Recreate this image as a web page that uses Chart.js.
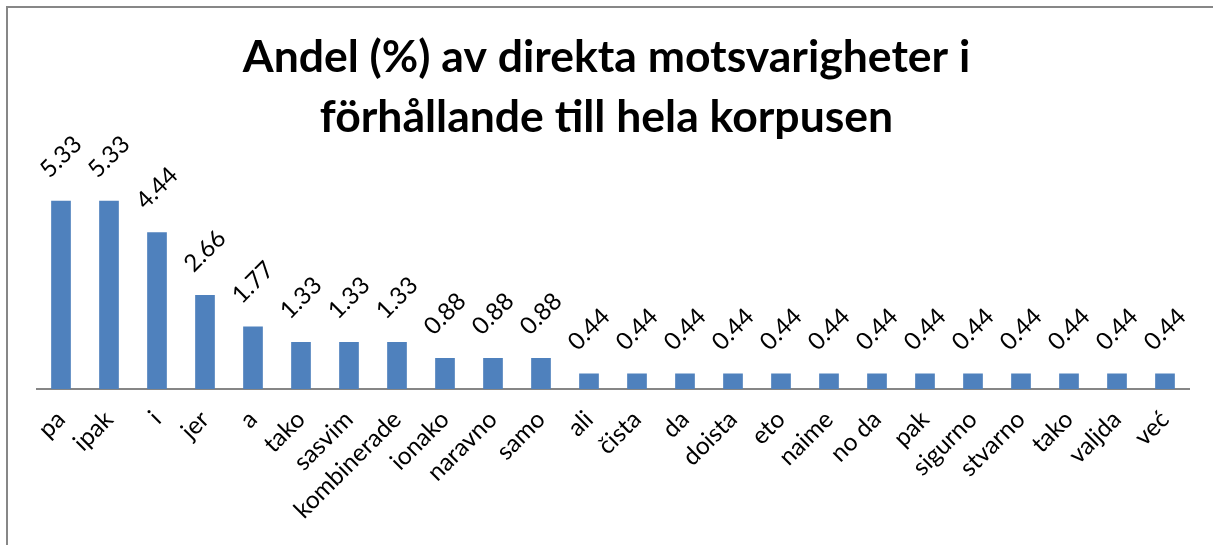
<!DOCTYPE html>
<html>
<head>
<meta charset="utf-8">
<script src="https://cdn.jsdelivr.net/npm/chart.js@4"></script>
<style>
  html, body { margin: 0; background: #fff; overflow: hidden; }
  #wrap { position: absolute; left: 0; top: 0; width: 1213px; height: 545px; overflow: hidden; }
  #frame { position: absolute; left: 6px; top: 6px; width: 1207px; height: 539px; border-left: 2px solid #878787; border-top: 2px solid #878787; box-sizing: border-box; }
  #chart { position: absolute; left: 0; top: 0; }
</style>
</head>
<body>
<div id="wrap">
  <div id="frame"></div>
  <canvas id="chart" width="1213" height="545"></canvas>
</div>
<script>
// Data
const words = ['pa', 'ipak', 'i', 'jer', 'a', 'tako', 'sasvim', 'kombinerade', 'ionako', 'naravno', 'samo',
  'ali', 'čista', 'da', 'doista', 'eto', 'naime', 'no da', 'pak', 'sigurno', 'stvarno', 'tako', 'valjda', 'već'];
const shares = [5.33, 5.33, 4.44, 2.66, 1.77, 1.33, 1.33, 1.33, 0.88, 0.88, 0.88,
  0.44, 0.44, 0.44, 0.44, 0.44, 0.44, 0.44, 0.44, 0.44, 0.44, 0.44, 0.44, 0.44];
const titleLines = ['Andel (%) av direkta motsvarigheter i', 'förhållande till hela korpusen'];

// Rotated value labels above each bar (like Excel's data labels)
const valueLabels = {
  id: 'valueLabels',
  afterDatasetsDraw(chart) {
    const ctx = chart.ctx;
    const meta = chart.getDatasetMeta(0);
    ctx.save();
    ctx.font = '24px Lato';
    ctx.fillStyle = '#000';
    ctx.textAlign = 'center';
    ctx.textBaseline = 'middle';
    meta.data.forEach((bar, i) => {
      ctx.save();
      ctx.translate(bar.x, bar.y - 44);
      ctx.rotate(-Math.PI / 4);
      ctx.fillText(shares[i].toFixed(2), 0, 0);
      ctx.restore();
    });
    ctx.restore();
  }
};

new Chart(document.getElementById('chart'), {
  type: 'bar',
  data: {
    labels: words,
    datasets: [{
      data: shares,
      backgroundColor: '#4F81BD',
      barPercentage: 0.41,
      categoryPercentage: 1
    }]
  },
  options: {
    responsive: false,
    animation: false,
    // symmetric padding keeps the title centred on the page
    layout: { padding: { left: 24, right: 24, top: 0, bottom: 0 } },
    plugins: {
      legend: { display: false },
      tooltip: { enabled: false },
      title: {
        display: true,
        text: titleLines,
        color: '#000',
        font: { family: 'Lato', size: 44.5, weight: 'bold', lineHeight: 1.35 },
        padding: { top: 28, bottom: 22 }
      }
    },
    scales: {
      x: {
        grid: { display: false },
        border: { display: true, color: '#868686', width: 2 },
        ticks: {
          color: '#000',
          font: { family: 'Lato', size: 24.5 },
          minRotation: 45,
          maxRotation: 45,
          autoSkip: false,
          padding: 8
        },
        afterFit(scale) { scale.height = 156; }
      },
      y: {
        min: 0,
        max: 6.2,
        grid: { display: false },
        border: { display: false },
        ticks: { display: false },
        // invisible axis, only reserves the left gap
        afterFit(scale) { scale.width = 13; }
      }
    }
  },
  plugins: [valueLabels]
});
</script>
</body>
</html>
